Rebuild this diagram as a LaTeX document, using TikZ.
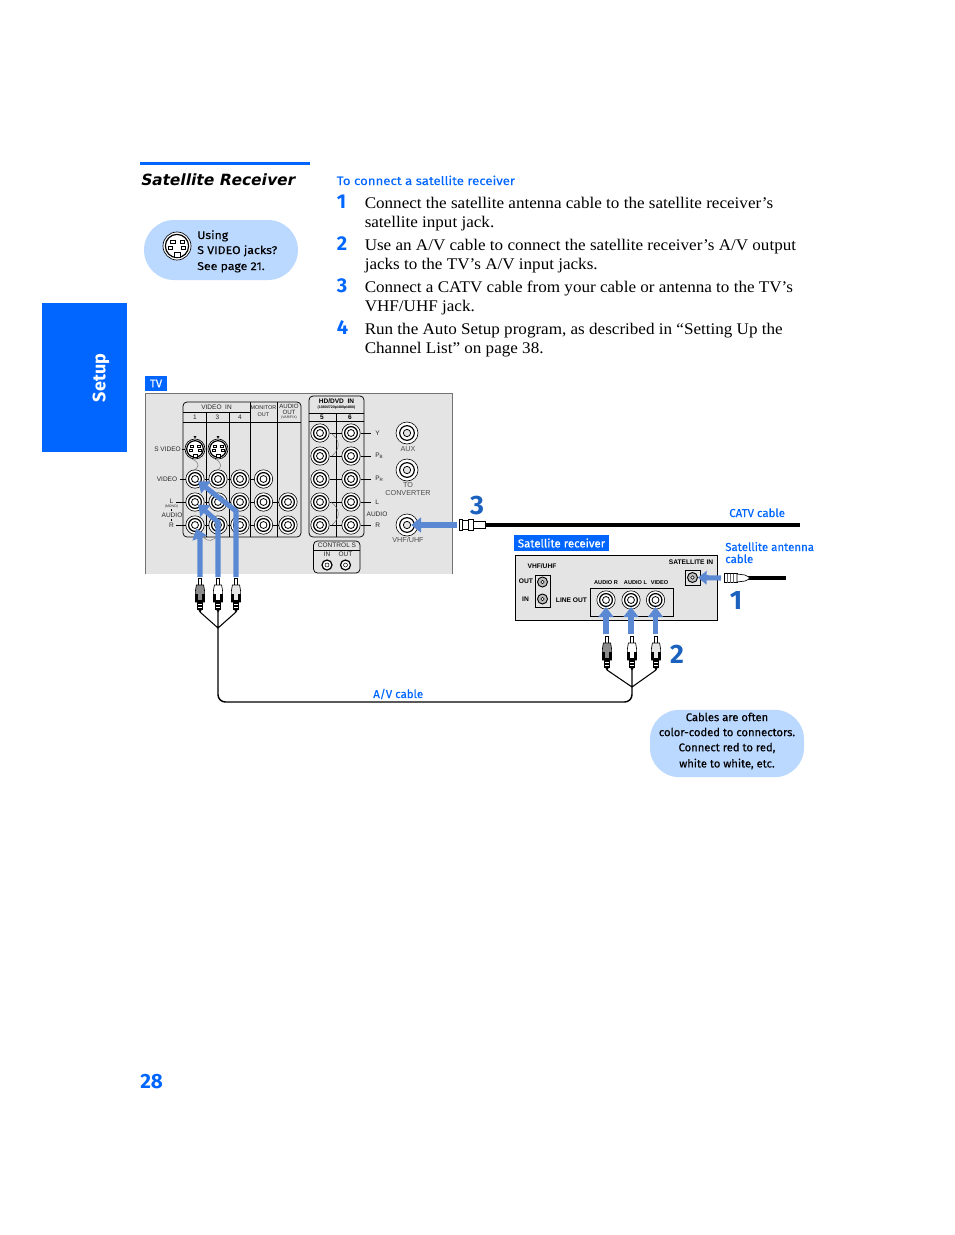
\documentclass[tikz,border=0pt]{standalone}
\usepackage{fontspec}
\setmainfont{Liberation Sans}
\newfontfamily\bodyf[FakeStretch=1.05]{Liberation Serif}
\newfontfamily\labf[FakeBold=0.3]{Fira Sans}
\newfontfamily\labb{Fira Sans}
\newfontfamily\labw[FakeBold=0.3,FakeStretch=1.1]{Fira Sans}
\newfontfamily\titlef[FakeSlant=0.2]{DejaVu Sans}
\usetikzlibrary{arrows.meta}
\definecolor{sonyblue}{HTML}{0066FF}
\definecolor{numblue}{HTML}{1A62BE}
\definecolor{arrblue}{HTML}{5B88D2}
\definecolor{bubble}{HTML}{BBD8FF}
\definecolor{panel}{HTML}{E4E4E4}
\newcommand\fs[1]{\fontsize{#1}{#1}\selectfont}
\newcommand\rca[2]{\node[rcaa] (#1) at (#2) {};\node[rcab] (#1m) at (#2) {};\node[rcac] (#1i) at (#2) {};}
\newcommand\rcabig[2]{\node[rcaa,minimum size=16.5pt] (#1) at (#2) {};\node[rcab,minimum size=11pt] (#1m) at (#2) {};\node[rcac,minimum size=5.5pt,fill=panel] (#1i) at (#2) {};}
\tikzset{x=0.75pt,y=-0.75pt,
 rcaa/.style={circle,draw=black,fill=white,line width=0.45pt,minimum size=13.8pt,inner sep=0},
 rcab/.style={circle,draw=black,fill=white,line width=0.9pt,minimum size=9.6pt,inner sep=0},
 rcac/.style={circle,draw=black,fill=white,line width=0.6pt,minimum size=5.2pt,inner sep=0},
 thinl/.style={line width=0.55pt,black},
 squig/.style={line width=0.3pt,black!60},
 ptxt/.style={font=\fs{4.9},inner sep=0,text=black!85},
 ptxb/.style={font=\fs{4.9}\bfseries,inner sep=0,text=black},
 body/.style={font=\bodyf\fs{12.2},anchor=base west,inner sep=0},
 stepn/.style={font=\labb\bfseries\fs{15},text=sonyblue,anchor=base west,inner sep=0},
 bigno/.style={font=\labb\bfseries\fs{20},text=numblue,inner sep=0},
 lab/.style={font=\labf\fs{8.6},text=sonyblue,anchor=base west,inner sep=0},
 bub/.style={font=\labf\fs{8.4},text=black,inner sep=0,align=center},
 bubl/.style={font=\labw\fs{8.4},text=black,inner sep=0,anchor=base west},
 flow/.style={line width=3.8pt,arrblue,-{Triangle[length=7.5pt,width=11pt]}},
 boxl/.style={draw=black,line width=0.55pt,rounded corners=3pt},
 pics/rcaplug/.style={code={
   \draw[line width=0.5pt,fill=white] (-1.5,-34) -- (1.5,-34) -- (1.5,-27) -- (-1.5,-27) -- cycle;
   \draw[line width=0.5pt,fill=#1] (-3.6,-27) -- (3.6,-27) -- (4.6,-21) -- (4.6,-10) -- (-4.6,-10) -- (-4.6,-21) -- cycle;
   \fill[black] (-4.6,-18) rectangle (-2,-11);
   \fill[black] (2,-18) rectangle (4.6,-11);
   \fill[black] (-4.6,-12) rectangle (4.6,-10);
   \fill[black] (-2.7,-10) rectangle (2.7,-2);
   \fill[black] (-1.5,-2) -- (1.5,-2) -- (0.6,0) -- (-0.6,0) -- cycle;
   \draw[white,line width=0.4pt] (-2,-8)--(2,-8) (-2,-5)--(2,-5);
 }},
 pics/svid/.style={code={
   \draw[black,fill=white,line width=0.5pt] (0,0) circle (#1*1.0);
   \draw[black,line width=0.9pt] (0,0) circle (#1*0.83);
   \foreach \a/\b in {-0.45/-0.42,0.2/-0.42,-0.62/0.02,0.3/0.02}
     \draw[black,line width=0.4pt] (\a*#1,\b*#1) rectangle ++(0.3*#1,0.24*#1);
   \draw[black,fill=white,line width=0.4pt] (-0.22*#1,0.78*#1) rectangle (0.22*#1,0.48*#1);
 }},
}
\begin{document}
\begin{tikzpicture}
\useasboundingbox (0,0) rectangle (954,1235);
% left column
\fill[sonyblue] (42,303) rectangle (127,452);
\node[font=\labb\bfseries\fs{13.5},text=white,rotate=90,inner sep=0] (setup) at (101,378) {Setup};
\fill[sonyblue] (140,161.5) rectangle (310,164.5);
\node[font=\titlef\bfseries\fs{11.6},anchor=base west,inner sep=0] (title) at (140,185) {Satellite Receiver};
\node[fill=bubble,rounded corners=22.5pt,minimum width=115.5pt,minimum height=45pt,inner sep=0] (bub1) at (221,250) {};
\pic at (177,246) {svid=14};
\node[bubl] (b1a) at (197,239) {Using};
\node[bubl] (b1b) at (197,254) {S VIDEO jacks?};
\node[bubl] (b1c) at (197,270) {See page 21.};
% instructions
\node[lab,font=\labw\fs{9}] (head) at (336.5,185) {To connect a satellite receiver};
\node[stepn] (n1) at (336.5,208) {1};
\node[body] (t1a) at (364.5,208.5) {Connect the satellite antenna cable to the satellite receiver’s};
\node[body] (t1b) at (364.5,227.5) {satellite input jack.};
\node[stepn] (n2) at (336.5,250) {2};
\node[body] (t2a) at (364.5,250.5) {Use an A/V cable to connect the satellite receiver’s A/V output};
\node[body] (t2b) at (364.5,269.5) {jacks to the TV’s A/V input jacks.};
\node[stepn] (n3) at (336.5,292) {3};
\node[body] (t3a) at (364.5,292.5) {Connect a CATV cable from your cable or antenna to the TV’s};
\node[body] (t3b) at (364.5,311.5) {VHF/UHF jack.};
\node[stepn] (n4) at (336.5,334) {4};
\node[body] (t4a) at (364.5,334.5) {Run the Auto Setup program, as described in “Setting Up the};
\node[body] (t4b) at (364.5,353.5) {Channel List” on page 38.};
% TV panel
\node[fill=sonyblue,text=white,font=\labf\fs{8.6},minimum width=16.5pt,minimum height=11.5pt,inner sep=0] (tvlab) at (156,383.5) {TV};
\fill[panel] (145,393) rectangle (452,574);
\draw[black!55,line width=0.5pt] (145,574) -- (145,393) -- (452,393) -- (452,574);
% video in box
\draw[boxl] (183,402) rectangle (301,537);
\draw[thinl] (183,412) -- (250,412) (183,422) -- (301,422);
\draw[thinl] (206,412) -- (206,537) (229,412) -- (229,537) (250,402) -- (250,537) (277,402) -- (277,537);
\node[ptxt] (vi) at (216.5,407) {VIDEO\ \ IN};
\node[ptxt] (c1) at (195,417.5) {1};
\node[ptxt] (c3) at (217.5,417.5) {3};
\node[ptxt] (c4) at (240,417.5) {4};
\node[ptxt,font=\fs{4.1}] (mo) at (263.5,408) {MONITOR};
\node[ptxt,font=\fs{4.1}] (mo2) at (263.5,414.5) {OUT};
\node[ptxt,font=\fs{4.6}] (ao) at (289,406.5) {AUDIO};
\node[ptxt,font=\fs{4.6}] (ao2) at (289,412.5) {OUT};
\node[ptxt,font=\fs{2.6}] (vv) at (289,418) {(VAR/FIX)};
% jacks
\foreach \n/\x in {a/195,b/218,c/240,d/263.5,e/288}{
  \foreach \m/\y in {v/479,l/502,r/525}{
    \ifnum\strcmp{\n\m}{ev}=0\else
    \rca{\n\m}{\x,\y}
    \fi
  }
}
\coordinate (sa) at (195,449);
\coordinate (sb) at (218,449);
\coordinate (ts) at (181.5,449);\coordinate (tv) at (180,479);\coordinate (tl) at (176,502);\coordinate (tr) at (176,525);
\draw[thinl] (ts)--(sa);
\pic at (sa) {svid=10};
\pic at (sb) {svid=10};
\fill[black] (193.5,436) -- (196.5,436) -- (195,438.5) -- cycle;
\fill[black] (216.5,436) -- (219.5,436) -- (218,438.5) -- cycle;
\draw[squig] (192,459) .. controls (201,463) and (199,468) .. (193,471);
\draw[squig] (215,459) .. controls (223,463) and (222,468) .. (216,471);
\draw[squig] (203,536) .. controls (208,544) and (214,540) .. (218,535);
% row lines
\draw[thinl] (av.east)--(bv.west) (bv.east)--(cv.west) (cv.east)--(dv.west);
\draw[thinl] (al.east)--(bl.west) (bl.east)--(cl.west) (cl.east)--(dl.west) (dl.east)--(el.west);
\draw[thinl] (ar.east)--(br.west) (br.east)--(cr.west) (cr.east)--(dr.west) (dr.east)--(er.west);
\draw[thinl] (tv)--(av.west) (tl)--(al.west) (tr)--(ar.west);
\draw[thinl] (171.5,509)--(171.5,511) (171.5,519)--(171.5,521);
\node[ptxt] (ls) at (167.5,449) {S VIDEO};
\node[ptxt] (lv) at (167,479) {VIDEO};
\node[ptxt] (ll) at (171.5,501.5) {L};
\node[ptxt,font=\fs{2.6}] (lm) at (171.5,507) {(MONO)};
\node[ptxt] (la) at (172,515) {AUDIO};
\node[ptxt] (lr) at (171.5,525) {R};
% HD/DVD box
\draw[boxl] (309,396) rectangle (364,537);
\draw[thinl] (309,413) -- (364,413) (309,421) -- (364,421) (336,413) -- (336,537);
\node[ptxb] (hd) at (336.5,401.5) {HD/DVD\ \ IN};
\node[ptxb,font=\fs{2.7}\bfseries] (hdr) at (336.5,408) {(1080i/720p/480p/480i)};
\node[ptxb] (c5) at (322,417) {5};
\node[ptxb] (c6) at (350,417) {6};
\foreach \y/\lbl in {433/Y,456/P\textsubscript{B},479/P\textsubscript{R},502/L,525/R}{
  \rca{p\y}{320,\y}
  \rca{q\y}{351,\y}
  \draw[thinl] (p\y.east)--(q\y.west);
  \coordinate (e\y) at (371,\y);
  \draw[thinl] (q\y.east)--(e\y);
  \node[ptxt,anchor=west] (t\y) at (375,\y) {\lbl};
}
\draw[squig] (331,433) .. controls (340,440) and (341,448) .. (332,456);
\draw[squig] (331,502) .. controls (340,509) and (341,517) .. (332,525);
\node[ptxt] (au) at (377,514) {AUDIO};
% control S
\draw[boxl] (313.5,541) rectangle (360,573);
\draw[thinl] (313.5,550) -- (360,550);
\node[ptxt] (cs) at (337,545.5) {CONTROL S};
\node[ptxt] (ci) at (327,554.5) {IN};
\node[ptxt] (co) at (345.5,554.5) {OUT};
\foreach \n/\x in {ca/327,cb/345.5}{
  \node[circle,draw=black,fill=white,line width=0.9pt,minimum size=7.5pt,inner sep=0] (\n) at (\x,565) {};
  \node[circle,draw=black,fill=white,line width=0.4pt,minimum size=3pt,inner sep=0] (\n i) at (\x,565) {};
}
% right jacks
\rcabig{aux}{407,433}
\rcabig{conv}{407,470}
\rcabig{vhf}{407,525}
\node[ptxt,text=black!70,font=\fs{5.4}] (auxt) at (408,449) {AUX};
\node[ptxt,text=black!70,font=\fs{5.4},align=center] (convt) at (408,489) {TO\\[0.2pt]CONVERTER};
\node[ptxt,text=black!70,font=\fs{5.4}] (vhft) at (408,540) {VHF/UHF};
% TV side plugs
\pic at (200,612) {rcaplug=black!45};
\pic at (218,612) {rcaplug=white};
\pic at (236,612) {rcaplug=black!10};
\coordinate (w1) at (200,612);\coordinate (w2) at (218,612);\coordinate (w3) at (236,612);
\coordinate (wj) at (218,628);
\draw[line width=0.8pt] (w1)--(wj)--(w3) (w2)--(wj);
% receiver
\node[fill=sonyblue,text=white,font=\labf\fs{8.6},minimum width=71.5pt,minimum height=12pt,inner sep=0] (srlab) at (561.5,543) {Satellite receiver};
\draw[black,line width=0.6pt,fill=panel] (515,555) rectangle (717,620.5);
\node[ptxb,font=\fs{5}\bfseries] (rv) at (542,566) {VHF/UHF};
\node[ptxb,font=\fs{5}\bfseries] (ro) at (526,581.5) {OUT};
\node[ptxb,font=\fs{5}\bfseries] (ri) at (525.5,599) {IN};
\node[ptxb,font=\fs{5}\bfseries] (rl) at (571.5,600) {LINE OUT};
\node[ptxb,font=\fs{5}\bfseries] (rs) at (691,562.5) {SATELLITE IN};
\node[ptxb,font=\fs{4.2}\bfseries] (r1) at (606,583) {AUDIO R};
\node[ptxb,font=\fs{4.2}\bfseries] (r2) at (635.5,583) {AUDIO L};
\node[ptxb,font=\fs{4.2}\bfseries] (r3) at (659.5,583) {VIDEO};
\draw[thinl] (535,575) rectangle (550,607);
\draw[thinl] (590,588) rectangle (673.5,616);
\draw[thinl] (685,570) rectangle (700,585);
\foreach \n/\x/\y in {ro1/542.5/582,ri1/542.5/599,rs1/692.5/577.5}{
  \node[circle,draw=black,fill=black!25,line width=0.7pt,minimum size=7.5pt,inner sep=0] (\n) at (\x,\y) {};
  \node[circle,draw=black,fill=white,line width=0.4pt,minimum size=2.5pt,inner sep=0] (\n i) at (\x,\y) {};
}
\rca{r1j}{606,600}
\rca{r2j}{631,600}
\rca{r3j}{655.5,600}
% receiver plugs
\pic at (607,670) {rcaplug=black!45};
\pic at (632,670) {rcaplug=white};
\pic at (656,670) {rcaplug=black!10};
\coordinate (x1) at (607,670);\coordinate (x2) at (632,670);\coordinate (x3) at (656,670);
\coordinate (xj) at (632,687);
\draw[line width=0.8pt] (x1)--(xj)--(x3) (x2)--(xj);
% AV cable
\draw[line width=1.1pt,rounded corners=5.5pt] (wj) -- (218,702) -- (632,702) -- (xj);
\node[lab] (avc) at (373,698) {A/V cable};
% arrows
\coordinate (f1) at (200,577);\coordinate (f1b) at (200,539);
\coordinate (f2) at (218,577);\coordinate (f2b) at (218,522);
\coordinate (f3) at (236,577);\coordinate (f3b) at (236,511);
\draw[flow] (f1) -- (f1b) -- (ari);
\draw[flow] (f2) -- (f2b) -- (ali);
\draw[flow] (f3) -- (f3b) -- (avi);
\foreach \n in {r1j,r2j,r3j}{\path (\n) ++(0,34) coordinate (\n s);\draw[flow] (\n s) -- (\n m.south);}
\coordinate (fa) at (721,578);
\draw[flow,-{Triangle[length=6.5pt,width=10pt]}] (fa) -- (rs1);
\coordinate (fc) at (457,525);
\draw[flow,-{Triangle[length=7.5pt,width=11pt]}] (fc) -- (vhfi);
% CATV
\coordinate (cc) at (485,525);\coordinate (ce) at (800,525);
\draw[line width=3pt,black] (cc)--(ce);
\draw[black,fill=white,line width=0.5pt] (459,519.5) rectangle (462,530.5);
\draw[black,fill=white,line width=0.5pt] (462,520.5) rectangle (468,529.5);
\draw[black,fill=white,line width=0.5pt] (468,519.5) rectangle (473,530.5);
\draw[black,fill=white,line width=0.5pt] (473,521.5) rectangle (485,528.5);
\node[bigno] (b3) at (477,506) {3};
\node[lab] (catv) at (729,517) {CATV cable};
% antenna cable
\coordinate (ac) at (748,578);\coordinate (ae) at (786,578);
\draw[line width=2.3pt,black] (ac)--(ae);
\draw[black,fill=white,line width=0.5pt] (724,573.5) rectangle (737,582.5);
\draw[black!60,line width=0.4pt] (727,573.5)--(727,582.5) (730,573.5)--(730,582.5) (733,573.5)--(733,582.5);
\draw[black,fill=white,line width=0.5pt] (737,574) -- (745,575) -- (749,577) -- (749,579) -- (745,581) -- (737,582) -- cycle;
\node[bigno] (b1) at (736,600) {1};
\node[bigno] (b2) at (677,654) {2};
\node[lab] (sac1) at (725,551) {Satellite antenna};
\node[lab] (sac2) at (725,563) {cable};
% bubble 2
\node[fill=bubble,rounded corners=22pt,minimum width=115.5pt,minimum height=50.5pt,inner sep=0] (bub2) at (727,743.5) {};
\node[bub] (b2a) at (727,717) {Cables are often};
\node[bub] (b2b) at (727,732) {color-coded to connectors.};
\node[bub] (b2c) at (727,748) {Connect red to red,};
\node[bub] (b2d) at (727,764) {white to white, etc.};
\node[font=\labb\bfseries\fs{15.5},text=sonyblue,anchor=base west,inner sep=0] (pg) at (140,1088) {28};
\end{tikzpicture}
\end{document}
